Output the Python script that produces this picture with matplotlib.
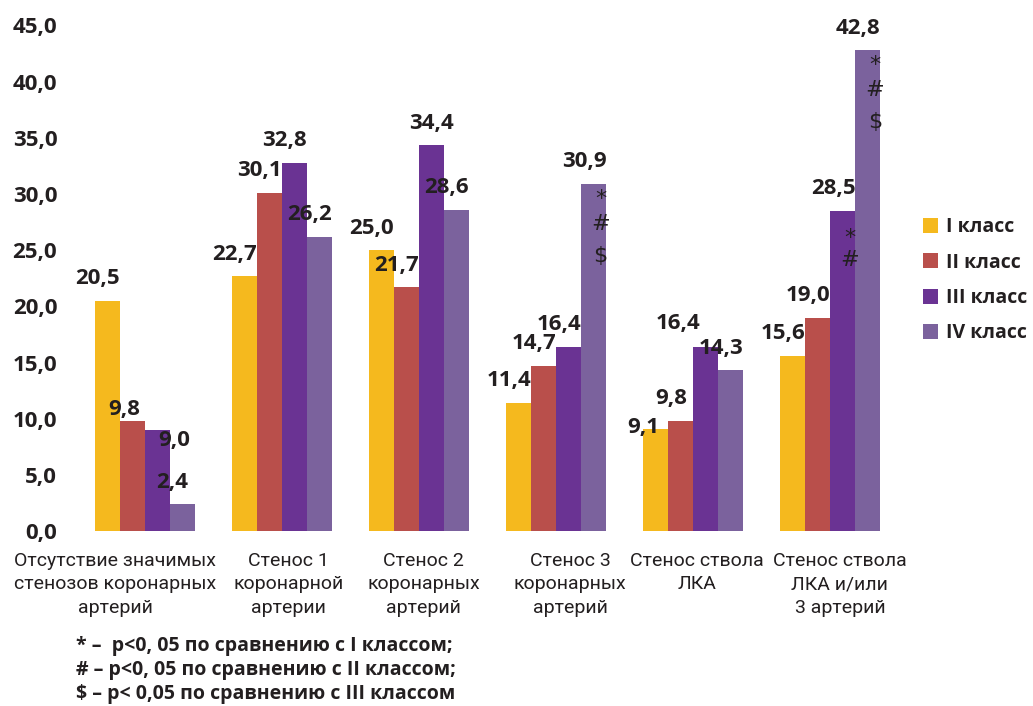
import matplotlib
matplotlib.use("Agg")
import matplotlib.pyplot as plt
import numpy as np

# --- data -------------------------------------------------------------
categories = [
    "Отсутствие значимых\nстенозов коронарных\nартерий",
    "Стенос 1\nкоронарной\nартерии",
    "Стенос 2\nкоронарных\nартерий",
    "Стенос 3\nкоронарных\nартерий",
    "Стенос ствола\nЛКА",
    "Стенос ствола\nЛКА и/или\n3 артерий",
]
series_names = ["I класс", "II класс", "III класс", "IV класс"]
class_1 = [20.5, 22.7, 25.0, 11.4, 9.1, 15.6]
class_2 = [9.8, 30.1, 21.7, 14.7, 9.8, 19.0]
class_3 = [9.0, 32.8, 34.4, 16.4, 16.4, 28.5]
class_4 = [2.4, 26.2, 28.6, 30.9, 14.3, 42.8]
y_ticks = [0, 5, 10, 15, 20, 25, 30, 35, 40, 45]

# significance marks: (category index, series index, marks)
significance = [
    (3, 3, ["*", "#", "$"]),
    (5, 2, ["*", "#"]),
    (5, 3, ["*", "#", "$"]),
]
footnotes = [
    "* –  p<0, 05 по сравнению с I классом;",
    "# – p<0, 05 по сравнению с II классом;",
    "$ – p< 0,05 по сравнению с III классом",
]

# --- style ------------------------------------------------------------
colors = ["#F5B91E", "#B94F4B", "#6A3393", "#7B629D"]
text_color = "#231F20"
bold_font = ["Open Sans", "DejaVu Sans"]
label_font = ["Roboto", "DejaVu Sans"]

# value-label offsets in pixels (dx, dy) from the bar top, per series
default_off = (-9.5, 22)
label_offsets = {
    (0, 1): (-8, 11),
    (0, 2): (17.5, -11),
    (2, 2): (0, 21),
    (4, 0): (-12.5, 1.5),
    (4, 2): (-28, 23),
}
cat_label_dx = [-29.5, 6.5, 5, 14, 3.5, 9.5]
mark_offsets = {"*": -15, "#": -40, "$": -72}
mark_offsets_purple = {"*": -27, "#": -49}

# --- figure -----------------------------------------------------------
fig = plt.figure(figsize=(10.33, 7.06), dpi=100)
ax = fig.add_axes([76 / 1033, (706 - 531) / 706, (899 - 76) / 1033, (531 - 25.5) / 706])

series = [class_1, class_2, class_3, class_4]
x = np.arange(len(categories))
bar_w = 0.182
for i, (vals, name, col) in enumerate(zip(series, series_names, colors)):
    pos = x + (i - 1.5) * bar_w
    ax.bar(pos, vals, width=bar_w, color=col, label=name, linewidth=0)
    for j, v in enumerate(vals):
        dx, dy = label_offsets.get((j, i), default_off)
        ax.annotate(f"{v:.1f}".replace(".", ","), xy=(pos[j], v),
                    xytext=(dx, dy), textcoords="offset pixels",
                    ha="center", va="center", fontsize=16,
                    fontweight="bold", family=bold_font, color=text_color)

for j, i, marks in significance:
    xpos = x[j] + (i - 1.5) * bar_w
    top = series[i][j]
    offs = mark_offsets_purple if i == 2 else mark_offsets
    for m in marks:
        ax.annotate(m, xy=(xpos, top), xytext=(7, offs[m]),
                    textcoords="offset pixels", ha="center", va="center",
                    fontsize=16, family=["DejaVu Sans"], color=text_color)

ax.set_xlim(-0.5, len(categories) - 0.5)
ax.set_ylim(0, 45)
ax.set_yticks(y_ticks)
ax.set_yticklabels([f"{t:.1f}".replace(".", ",") for t in y_ticks],
                   fontsize=16, fontweight="bold", family=bold_font,
                   color=text_color)
ax.tick_params(axis="y", length=0, pad=13.5)
ax.set_xticks([])
for s in ax.spines.values():
    s.set_visible(False)

for j, lab in enumerate(categories):
    ax.annotate(lab, xy=(x[j], 0), xycoords=("data", "axes fraction"),
                xytext=(cat_label_dx[j], -21), textcoords="offset pixels",
                ha="center", va="top", fontsize=14, family=label_font,
                color=text_color, linespacing=1.38)

leg = fig.legend(loc="upper left", bbox_to_anchor=(905 / 1033, 1 - 200 / 706),
                 frameon=False, handlelength=0.8, handleheight=0.8,
                 handletextpad=0.4, labelspacing=0.78,
                 prop={"family": bold_font, "weight": "bold", "size": 14})
for t in leg.get_texts():
    t.set_color(text_color)

for k, line in enumerate(footnotes):
    fig.text(76 / 1033, 1 - (646 + 24 * k) / 706, line, ha="left", va="center",
             fontsize=14, fontweight="bold", family=bold_font, color=text_color)

fig.savefig("out.png", dpi=100)
